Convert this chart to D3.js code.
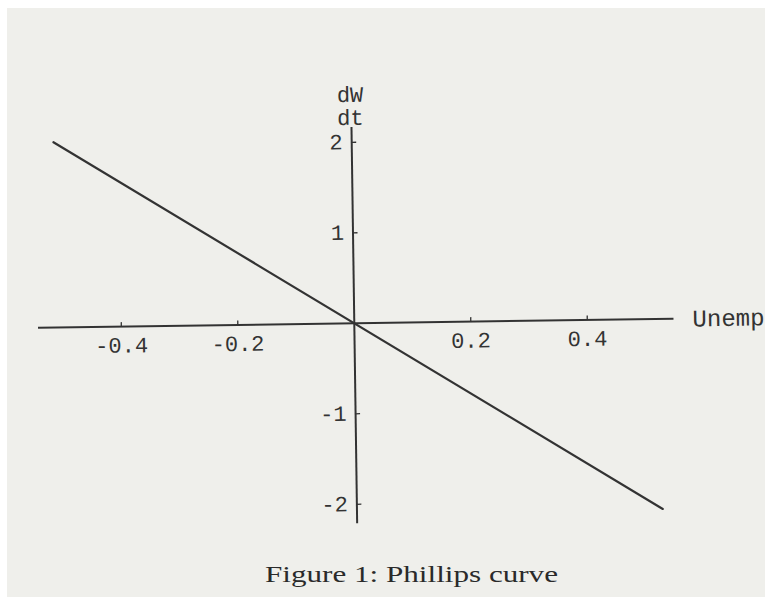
<!DOCTYPE html>
<html>
<head>
<meta charset="utf-8">
<script src="https://cdn.jsdelivr.net/npm/d3@7"></script>
<style>
  html, body { margin: 0; padding: 0; background: #ffffff; }
  svg { display: block; }
</style>
</head>
<body>
<svg id="chart" width="765" height="597"></svg>
<script>
// Phillips curve: wage change dW/dt against unemployment deviation
const curveX = [-0.512, 0.525];
const curveY = [2.048, -2.1];
const xTicks = [-0.4, -0.2, 0.2, 0.4];
const yTicks = [-2, -1, 1, 2];
const xTickLabels = ["-0.4", "-0.2", "0.2", "0.4"];
const yTickLabels = ["-2", "-1", "1", "2"];
const xExtent = [-0.543, 0.548];
const yExtent = [-2.21, 2.17];
const xAxisTitle = "Unemp";
const yAxisTitle = ["dW", "dt"];
const caption = "Figure 1: Phillips curve";

const W = 765, H = 597;
const ink = "#333333";
const mono = "'Liberation Mono', 'DejaVu Sans Mono', monospace";

const svg = d3.select("#chart");

// paper
svg.append("rect").attr("x", 7).attr("y", 8).attr("width", W - 7).attr("height", H - 8)
  .attr("fill", "#efefeb");

const x = d3.scaleLinear().domain(xExtent).range([38, 673.5]);
const y = d3.scaleLinear().domain(yExtent).range([523.3, 126.9]);
const ox = x(0), oy = y(0);

const plot = svg.append("g").attr("transform", `rotate(-0.82, ${ox}, ${oy})`);

// x axis line through the origin
plot.append("line")
  .attr("x1", x(xExtent[0])).attr("x2", x(xExtent[1]))
  .attr("y1", oy).attr("y2", oy)
  .attr("stroke", ink).attr("stroke-width", 2);

// y axis line through the origin
plot.append("line")
  .attr("x1", ox).attr("x2", ox)
  .attr("y1", y(yExtent[0])).attr("y2", y(yExtent[1]))
  .attr("stroke", ink).attr("stroke-width", 2);

// x ticks (above the axis) and labels
plot.selectAll(".xt").data(xTicks).join("line")
  .attr("x1", d => x(d)).attr("x2", d => x(d))
  .attr("y1", oy).attr("y2", oy - 4.5)
  .attr("stroke", ink).attr("stroke-width", 1.3);

plot.selectAll(".xl").data(xTicks).join("text")
  .attr("x", d => x(d)).attr("y", oy + 26)
  .attr("text-anchor", "middle")
  .attr("font-family", mono).attr("font-size", 22)
  .attr("fill", ink)
  .text((d, i) => xTickLabels[i]);

// y ticks (right of the axis) and labels
plot.selectAll(".yt").data(yTicks).join("line")
  .attr("x1", ox).attr("x2", ox + 4.5)
  .attr("y1", d => y(d)).attr("y2", d => y(d))
  .attr("stroke", ink).attr("stroke-width", 1.3);

plot.selectAll(".yl").data(yTicks).join("text")
  .attr("x", ox - 9).attr("y", d => y(d) + 7)
  .attr("text-anchor", "end")
  .attr("font-family", mono).attr("font-size", 22)
  .attr("fill", ink)
  .text((d, i) => yTickLabels[i]);

// axis titles
plot.append("text")
  .attr("x", x(xExtent[1]) + 19).attr("y", oy + 8)
  .attr("font-family", mono).attr("font-size", 24)
  .attr("fill", ink)
  .text(xAxisTitle);

plot.selectAll(".yat").data(yAxisTitle).join("text")
  .attr("x", ox - 1).attr("y", (d, i) => y(yExtent[1]) - 25 + i * 23)
  .attr("text-anchor", "middle")
  .attr("font-family", mono).attr("font-size", 22)
  .attr("fill", ink)
  .text(d => d);

// the curve
const pts = curveX.map((v, i) => [v, curveY[i]]);
plot.append("path")
  .datum(pts)
  .attr("d", d3.line().x(d => x(d[0])).y(d => y(d[1])))
  .attr("fill", "none")
  .attr("stroke", ink).attr("stroke-width", 2.2)
  .attr("stroke-linecap", "round");

// caption
svg.append("text")
  .attr("x", 265).attr("y", 582)
  .attr("font-family", "'Liberation Serif', 'DejaVu Serif', serif")
  .attr("font-size", 23)
  .attr("fill", "#2a2a2a")
  .attr("textLength", 293).attr("lengthAdjust", "spacingAndGlyphs")
  .text(caption);
</script>
</body>
</html>
